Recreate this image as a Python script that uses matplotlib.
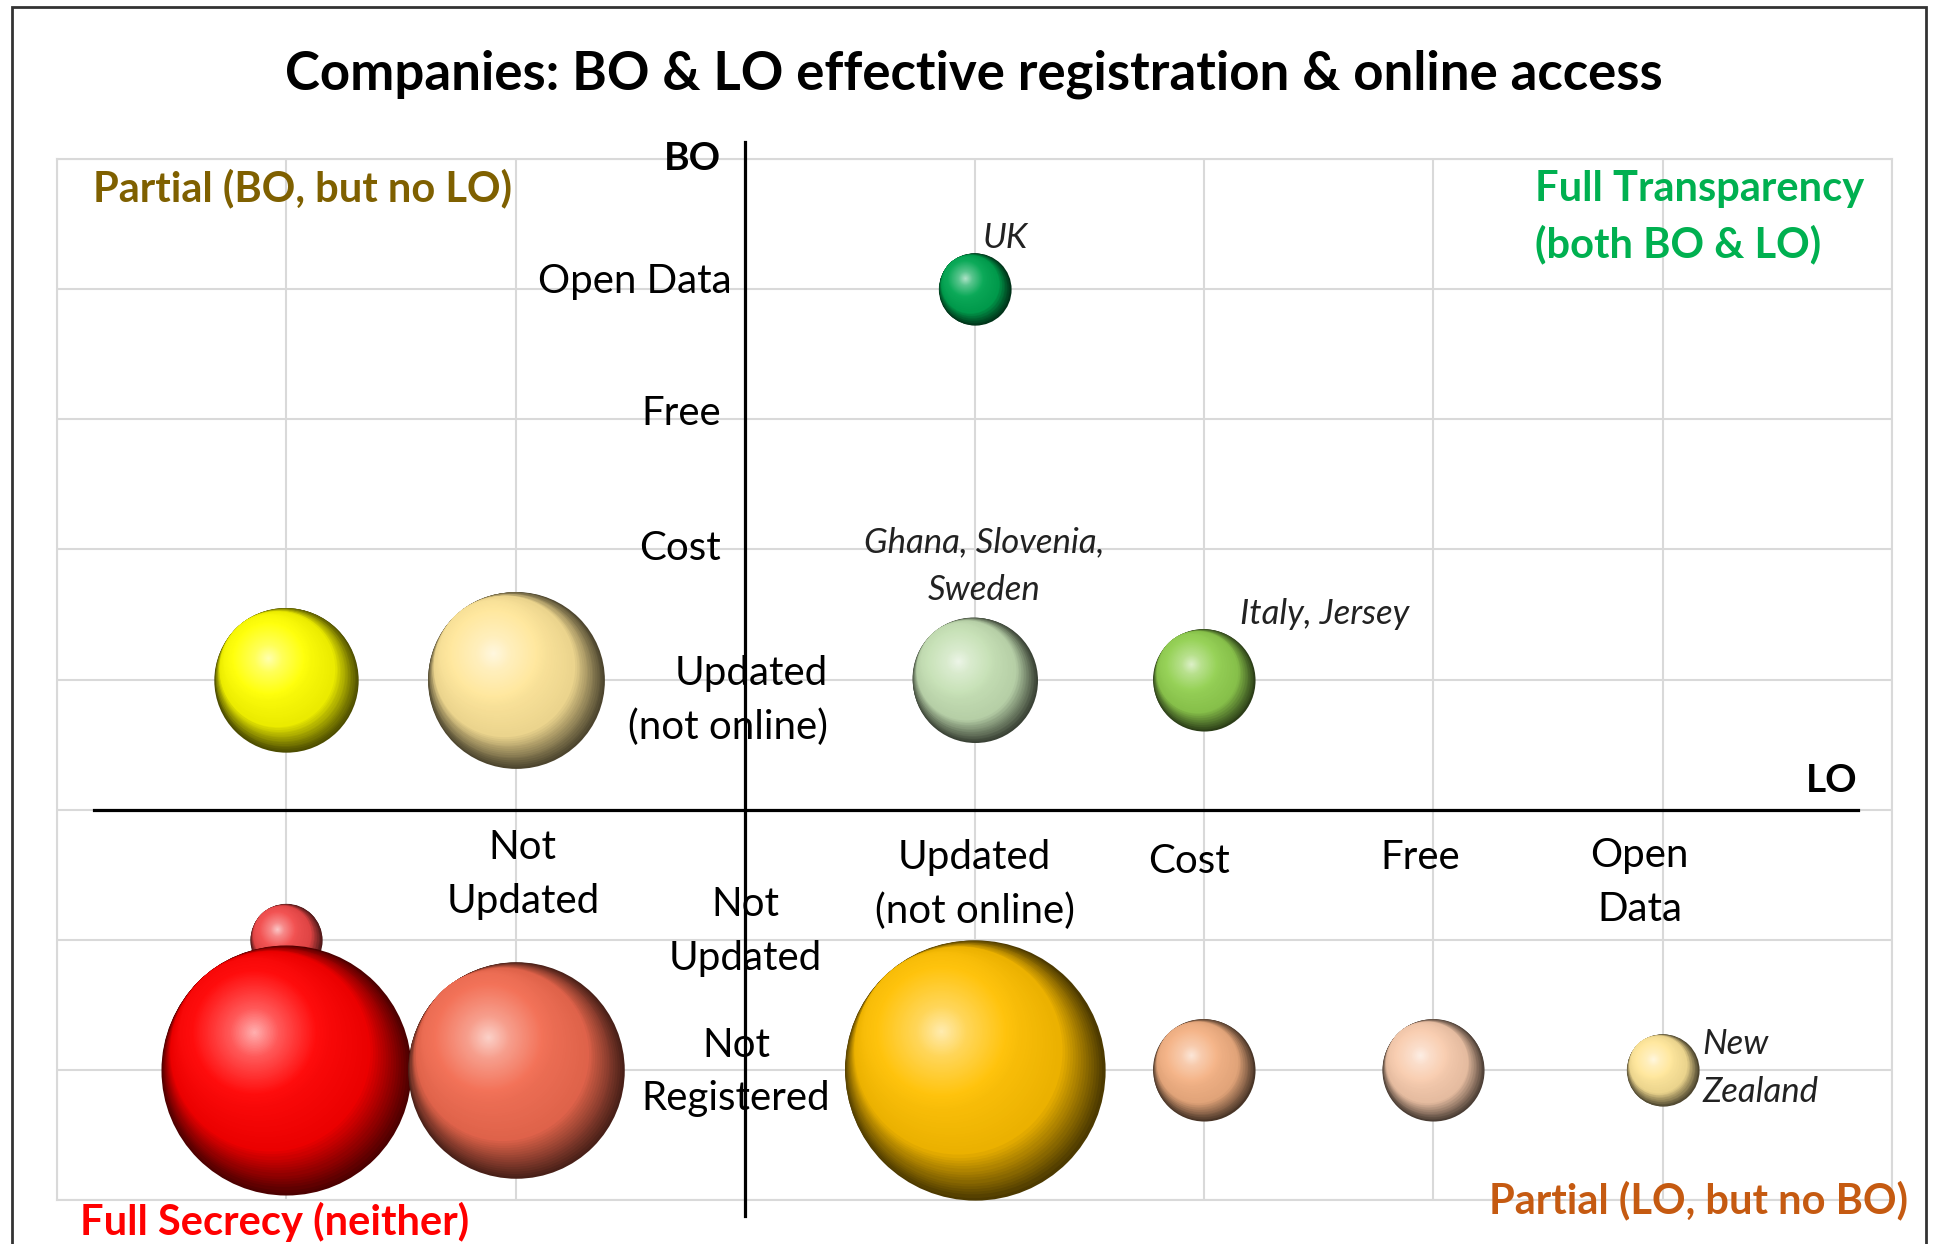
import numpy as np
import matplotlib
matplotlib.use('Agg')
import matplotlib.pyplot as plt
import matplotlib.transforms as mtrans
from matplotlib.colors import to_rgb
from matplotlib.patches import Rectangle

plt.rcParams['font.family'] = ['Lato', 'DejaVu Sans']

title = 'Companies: BO & LO effective registration & online access'

# bubble data: LO level (x), BO level (y), number of countries
lo = [1, -2, -1, 1, 2, -2, -2, -1, 1, 2, 3, 4]
bo = [4, 1, 1, 1, 1, -1, -2, -2, -2, -2, -2, -2]
counts = [1, 4, 6, 3, 2, 1, 12, 9, 13, 2, 2, 1]
colors = ['#00A651', '#FFFF00', '#FFE699', '#C5E0B4', '#92D050', '#F24A4A',
          '#FF0000', '#F26B50', '#FFC000', '#F4B183', '#F8CBAD', '#FFE699']
names = ['UK', '', '', 'Ghana, Slovenia,\nSweden', 'Italy, Jersey', '', '',
         '', '', '', '', 'New\nZealand']

lo_ticks = [-1, 1, 2, 3, 4]
lo_labels = ['Not\nUpdated', 'Updated\n(not online)', 'Cost', 'Free', 'Open\nData']
bo_ticks = [4, 3, 2, 1, -1, -2]
bo_labels = ['Open Data', 'Free', 'Cost', 'Updated\n(not online)', 'Not\nUpdated',
             'Not\nRegistered']

quadrants = ['Partial (BO, but no LO)', 'Full Transparency\n(both BO & LO)',
             'Full Secrecy (neither)', 'Partial (LO, but no BO)']
quad_colors = ['#7F6000', '#00B050', '#FF0000', '#C55A11']

W, H, DPI = 1936, 1244, 100
PT = 72 / DPI  # points per pixel

fig = plt.figure(figsize=(W / DPI, H / DPI), dpi=DPI)
ax = fig.add_axes([57 / W, 1 - 1200 / H, (1892 - 57) / W, (1200 - 159) / H])
ax.set_xlim(-3, 5)
ax.set_ylim(-3, 5)
ax.set_xticks(range(-3, 6))
ax.set_yticks(range(-3, 6))
ax.tick_params(length=0, labelbottom=False, labelleft=False)
ax.grid(True, color='#D9D9D9', lw=1.5)
ax.set_axisbelow(True)
for s in ax.spines.values():
    s.set_color('#D9D9D9')
    s.set_linewidth(1.5)

# crossing axes
ax.plot([0, 0], [5.13, -3.12], color='black', lw=2.3, clip_on=False, zorder=3)
ax.plot([-2.84, 4.85], [0, 0], color='black', lw=2.3, clip_on=False, zorder=3)


def shade(base, f):
    # colour of a sphere layer, f=1 at rim, f=0 at highlight
    base = np.array(to_rgb(base))
    stops = [0.0, 0.2, 0.5, 0.8, 0.92, 1.0]
    cols = [base + (1 - base) * 0.7, base + (1 - base) * 0.35, base + (1 - base) * 0.05,
            base * 0.92, base * 0.55, base * 0.3]
    return tuple(np.interp(f, stops, [c[i] for c in cols]) for i in range(3))


ax_h_px = ax.get_position().height * H
max_d = 0.25 * ax_h_px  # Excel: biggest bubble is 25% of plot height
n_layers = 80
for x, y, c, col in zip(lo, bo, counts, colors):
    r = max_d / 2 * np.sqrt(c / max(counts))
    hx, hy = -0.26 * r, 0.3 * r
    for k in range(n_layers):
        f = 1 - k / n_layers
        g = min(1 - f, 0.4) / 0.4
        off = mtrans.ScaledTranslation(g * hx / DPI, g * hy / DPI, fig.dpi_scale_trans)
        ax.scatter([x], [y], s=(2 * r * f * PT) ** 2, color=shade(col, f),
                   linewidths=0, transform=ax.transData + off, zorder=4)

# bubble labels (offsets in px from bubble centre)
lab_pos = {'UK': (8, 51, 'left'), 'Ghana, Slovenia,\nSweden': (10, 113, 'center'),
           'Italy, Jersey': (36, 65, 'left'), 'New\nZealand': (40, 2, 'left')}
for x, y, n in zip(lo, bo, names):
    if not n:
        continue
    dx, dy, ha = lab_pos[n]
    ax.annotate(n, (x, y), xytext=(dx * PT, dy * PT), textcoords='offset points',
                ha=ha, va='center', style='italic', fontsize=25, color='#222222',
                linespacing=1.6, zorder=5)

# BO category labels along the vertical axis
bo_off = [(-13, 8, 'right'), (-24, 6, 'right'), (-24, 1, 'right'), (83, -21, 'right'),
          (0, 8, 'center'), (-9, -2, 'center')]
for t, lab, (dx, dy, ha) in zip(bo_ticks, bo_labels, bo_off):
    ax.annotate(lab, (0, t), xytext=(dx * PT, dy * PT), textcoords='offset points',
                ha=ha, va='center', multialignment=ha, fontsize=29, linespacing=1.55,
                zorder=5)

# LO category labels below the horizontal axis
lo_off = [(7, -65), (0, -75), (-15, -52), (-13, -48), (-23, -73)]
for t, lab, (dx, dy) in zip(lo_ticks, lo_labels, lo_off):
    ax.annotate(lab, (t, 0), xytext=(dx * PT, dy * PT), textcoords='offset points',
                ha='center', va='center', fontsize=29, linespacing=1.55, zorder=5)

ax.annotate('BO', (0, 5), xytext=(-53 * PT, 0), textcoords='offset points',
            ha='center', va='center', fontsize=28, fontweight='bold')
ax.annotate('LO', (4.85, 0), xytext=(0, 29 * PT), textcoords='offset points',
            ha='right', va='center', fontsize=28, fontweight='bold')

fig.text(974 / W, 1 - 74 / H, title, ha='center', va='center', fontsize=38,
         fontweight='bold')

q_pos = [(93, 188, 'left'), (1535, 217, 'left'), (80, 1222, 'left'), (1908, 1200, 'right')]
for q, qc, (px, py, ha) in zip(quadrants, quad_colors, q_pos):
    fig.text(px / W, 1 - py / H, q, ha=ha, va='center', color=qc, fontsize=30,
             fontweight='bold', linespacing=1.5)

fig.patches.append(Rectangle((12 / W, -0.1), (1926 - 12) / W, 1.1 - 7 / H,
                             transform=fig.transFigure, fill=False,
                             edgecolor='#333333', lw=2))

fig.savefig('out.png', dpi=DPI)
